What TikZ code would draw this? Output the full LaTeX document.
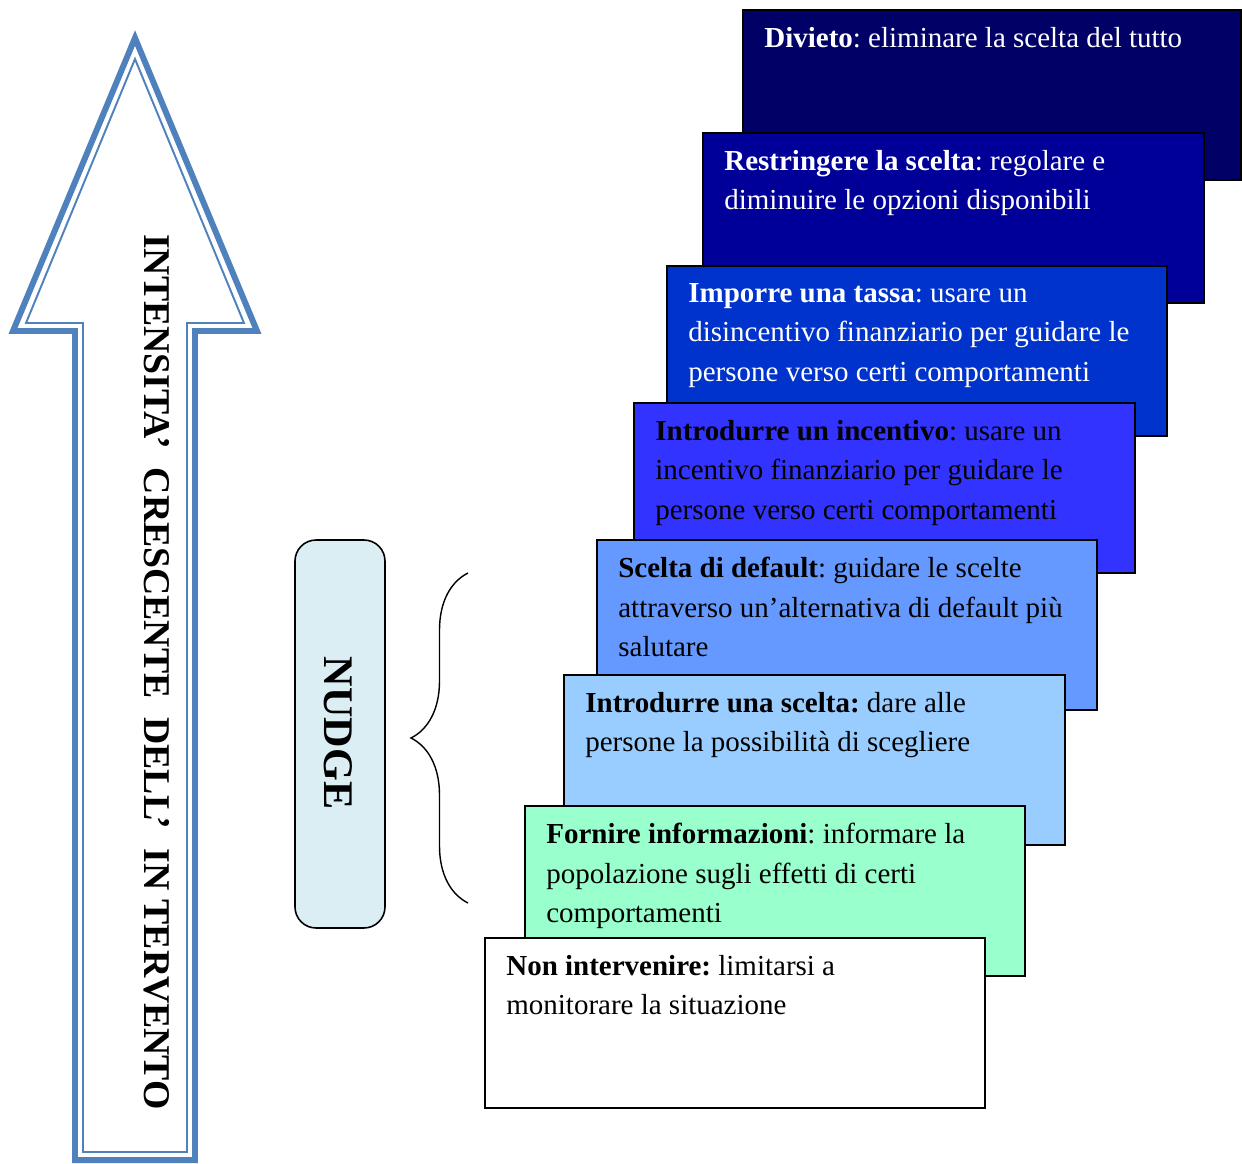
\documentclass[tikz,border=0pt]{standalone}
\usepackage{fontspec}
\setmainfont{Liberation Serif}
\usetikzlibrary{decorations.pathreplacing}
\frenchspacing
\definecolor{arrowblue}{HTML}{4F81BD}
\definecolor{nudgefill}{HTML}{DAEEF3}
\definecolor{stepone}{HTML}{000066}
\definecolor{steptwo}{HTML}{000099}
\definecolor{stepthree}{HTML}{0033CC}
\definecolor{stepfour}{HTML}{3333FF}
\definecolor{stepfive}{HTML}{6699FF}
\definecolor{stepsix}{HTML}{99CCFF}
\definecolor{stepseven}{HTML}{99FFCC}
\tikzset{
	stepbox/.style={draw=black, line width=1.1pt},
	steptext/.style={anchor=north west, inner sep=0pt, align=left, font=\fontsize{16.5}{22.4}\selectfont},
}

\begin{document}
\begin{tikzpicture}[x=0.02cm, y=-0.02cm]
			%%%%% START %%%%%
			\useasboundingbox (0, 0) rectangle (1242, 1164);
			
			% arrow, outer and inner line
			\draw[line width=3.4pt, color=arrowblue] (135, 38) -- (13, 331) -- (75, 331) -- (75, 1160) -- (195, 1160) -- (195, 331) -- (257, 331) -- cycle;
			\draw[line width=1.1pt, color=arrowblue] (135, 59) -- (26, 323) -- (83, 323) -- (83, 1152) -- (187, 1152) -- (187, 323) -- (244, 323) -- cycle;
			\node[rotate=-90, inner sep=0pt, font=\fontsize{21.5}{26}\selectfont\bfseries] (intensita) at (157, 672) {INTENSITA’\ \ CRESCENTE\ \ DELL’\ \ IN\ TERVENTO};
			
			% nudge
			\draw[line width=0.9pt, fill=nudgefill, rounded corners=12] (295, 540) rectangle (385, 928);
			\node[rotate=-90, inner sep=0pt, font=\fontsize{24}{28}\selectfont\bfseries] (nudge) at (338, 733) {NUDGE};
			\coordinate (bracebot) at (468, 903);
			\coordinate (bracetop) at (468, 573);
			\draw[line width=0.8pt, decorate, decoration={brace, amplitude=1.14cm}] (bracebot) -- (bracetop);
			
			% steps
			\draw[stepbox, fill=stepone] (743, 10) rectangle (1241, 180);
			\node[steptext, text=white] (divieto) at (764, 27) {\textbf{Divieto}: eliminare la scelta del tutto};
			
			\draw[stepbox, fill=steptwo] (703, 133) rectangle (1204, 303);
			\node[steptext, text=white] (restringere) at (724, 150) {\textbf{Restringere la scelta}: regolare e\\diminuire le opzioni disponibili};
			
			\draw[stepbox, fill=stepthree] (667, 266) rectangle (1167, 436);
			\node[steptext, text=white] (tassa) at (688, 283) {\textbf{Imporre una tassa}: usare un\\disincentivo finanziario per guidare le\\persone verso certi comportamenti};
			
			\draw[stepbox, fill=stepfour] (634, 403) rectangle (1135, 573);
			\node[steptext] (incentivo) at (655, 420) {\textbf{Introdurre un incentivo}: usare un\\incentivo finanziario per guidare le\\persone verso certi comportamenti};
			
			\draw[stepbox, fill=stepfive] (597, 540) rectangle (1097, 710);
			\node[steptext] (default) at (618, 557) {\textbf{Scelta di default}: guidare le scelte\\attraverso un’alternativa di default più\\salutare};
			
			\draw[stepbox, fill=stepsix] (564, 675) rectangle (1065, 845);
			\node[steptext] (scelta) at (585, 692) {\textbf{Introdurre una scelta:} dare alle\\persone la possibilità di scegliere};
			
			\draw[stepbox, fill=stepseven] (525, 806) rectangle (1025, 976);
			\node[steptext] (informazioni) at (546, 823) {\textbf{Fornire informazioni}: informare la\\popolazione sugli effetti di certi\\comportamenti};
			
			\draw[stepbox, fill=white] (485, 938) rectangle (985, 1108);
			\node[steptext] (nonintervenire) at (506, 955) {\textbf{Non intervenire:} limitarsi a\\monitorare la situazione};
			
			%%%%% END %%%%%
\end{tikzpicture}
\end{document}
